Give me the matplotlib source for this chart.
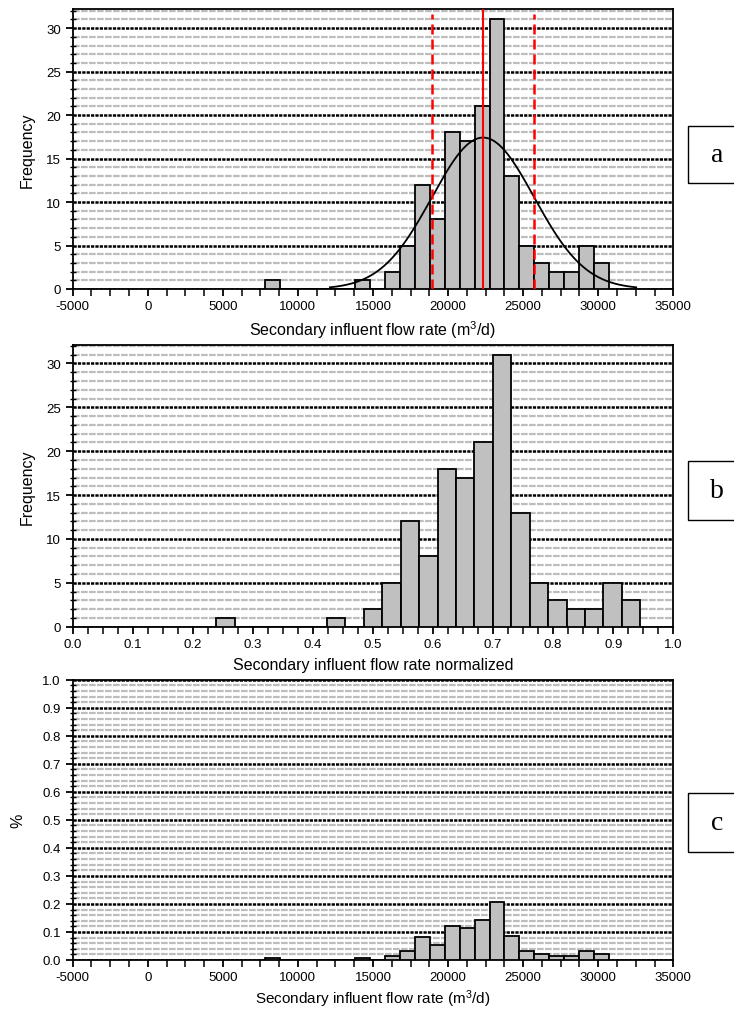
import numpy as np
import matplotlib
matplotlib.use("Agg")
import matplotlib.pyplot as plt
from matplotlib.ticker import MultipleLocator, FormatStrFormatter
from matplotlib.patches import Rectangle

# ---------------- data ----------------
counts = [1, 0, 0, 0, 0, 0, 1, 0, 2, 5, 12, 8, 18, 17, 21, 31, 13, 5, 3, 2, 2, 5, 3]
flow_bin_start = 7820.0     # m3/d, left edge of first bin
flow_bin_width = 996.0      # m3/d
norm_bin_start = 0.239      # normalized, left edge of first bin
norm_bin_width = 0.0307
fit_mean = 22330.0          # fitted normal mean (m3/d)
fit_sd = 3400.0             # fitted normal standard deviation (m3/d)
panel_labels = ["a", "b", "c"]
xlabel_flow = "Secondary influent flow rate (m$^3$/d)"
xlabel_norm = "Secondary influent flow rate normalized"

# ---------------- style ----------------
plt.rcParams['font.family'] = ['Liberation Sans', 'DejaVu Sans']
plt.rcParams['mathtext.fontset'] = 'custom'
plt.rcParams['mathtext.rm'] = 'Liberation Sans'
plt.rcParams['mathtext.it'] = 'Liberation Sans:italic'
plt.rcParams['axes.unicode_minus'] = False

W, H = 734, 1012
fig = plt.figure(figsize=(W / 100, H / 100), dpi=100)

def fx(px):
    return px / W

def fy(py):
    return 1 - py / H

left, right = 72.7, 673.3
boxes = [(10, 290), (346, 627.7), (680.7, 961)]
axes = []
for top, bot in boxes:
    ax = fig.add_axes([fx(left), fy(bot), fx(right) - fx(left), fy(top) - fy(bot)])
    axes.append(ax)

counts_arr = np.array(counts, dtype=float)
n = len(counts)
total = counts_arr.sum()
flow_left = flow_bin_start + flow_bin_width * np.arange(n)
norm_left = norm_bin_start + norm_bin_width * np.arange(n)

bar_kw = dict(align='edge', color='#c0c0c0', edgecolor='black', linewidth=1.3, zorder=3)
major_grid = dict(color='black', linestyle=(0, (1.3, 0.45)), linewidth=1.8)
minor_grid = dict(color='#bdbdbd', linestyle=(0, (3.0, 0.6)), linewidth=1.6)

LAB = 11.5
TICK = 9.5

def style(ax, ymaj, ymin):
    ax.yaxis.set_major_locator(MultipleLocator(ymaj))
    ax.yaxis.set_minor_locator(MultipleLocator(ymin))
    ax.grid(True, axis='y', which='major', **major_grid)
    ax.grid(True, axis='y', which='minor', **minor_grid)
    for s in ax.spines.values():
        s.set_linewidth(1.3)
    ax.tick_params(axis='both', which='major', direction='out', length=5, width=1.3,
                   labelsize=TICK)
    ax.tick_params(axis='y', which='major', pad=3.5)
    ax.tick_params(axis='x', which='major', pad=3)
    ax.tick_params(axis='y', which='minor', direction='inout', length=4, width=1.0)
    ax.tick_params(axis='x', which='minor', direction='out', length=5, width=1.1)

# ---- panel a ----
ax = axes[0]
ax.bar(flow_left, counts_arr, width=flow_bin_width, **bar_kw)
xs = np.linspace(fit_mean - 3 * fit_sd, fit_mean + 3 * fit_sd, 300)
ys = total * flow_bin_width / (fit_sd * np.sqrt(2 * np.pi)) * np.exp(-0.5 * ((xs - fit_mean) / fit_sd) ** 2)
ax.plot(xs, ys, color='black', lw=1.3, zorder=4)
ax.axvline(fit_mean, color='red', lw=1.5, zorder=5)
for v in (fit_mean - fit_sd, fit_mean + fit_sd):
    ax.plot([v, v], [0, 31.6], color='red', lw=1.8, linestyle=(0, (4, 2)), zorder=5)
ax.set_xlim(-5000, 35000)
ax.set_ylim(0, 32.2)
ax.xaxis.set_major_locator(MultipleLocator(5000))
ax.xaxis.set_minor_locator(MultipleLocator(1250))
style(ax, 5, 1)
ax.set_ylabel("Frequency", fontsize=LAB)
ax.yaxis.set_label_coords(-0.064, 0.5)
ax.set_xlabel(xlabel_flow, fontsize=LAB)
ax.xaxis.set_label_coords(0.5, -0.104)

# ---- panel b ----
ax = axes[1]
ax.bar(norm_left, counts_arr, width=norm_bin_width, **bar_kw)
ax.set_xlim(0, 1.0)
ax.set_ylim(0, 32.1)
ax.xaxis.set_major_locator(MultipleLocator(0.1))
ax.xaxis.set_minor_locator(MultipleLocator(0.025))
ax.xaxis.set_major_formatter(FormatStrFormatter('%.1f'))
style(ax, 5, 1)
ax.set_ylabel("Frequency", fontsize=LAB)
ax.yaxis.set_label_coords(-0.064, 0.5)
ax.set_xlabel(xlabel_norm, fontsize=LAB)
ax.xaxis.set_label_coords(0.5, -0.108)

# ---- panel c ----
ax = axes[2]
ax.bar(flow_left, counts_arr / total, width=flow_bin_width, **bar_kw)
ax.set_xlim(-5000, 35000)
ax.set_ylim(0, 1.0)
ax.xaxis.set_major_locator(MultipleLocator(5000))
ax.xaxis.set_minor_locator(MultipleLocator(1250))
ax.yaxis.set_major_formatter(FormatStrFormatter('%.1f'))
style(ax, 0.1, 0.02)
ax.set_ylabel("%", fontsize=LAB)
ax.yaxis.set_label_coords(-0.078, 0.5)
ax.set_xlabel(xlabel_flow, fontsize=11)
ax.xaxis.set_label_coords(0.5, -0.098)

# ---- panel label boxes ----
label_boxes = [(126.5, 184), (462.3, 520.7), (794.3, 852.7)]
for lab, (t, b) in zip(panel_labels, label_boxes):
    rect = Rectangle((fx(688.3), fy(b)), fx(760) - fx(688.3), fy(t) - fy(b),
                     transform=fig.transFigure, fill=False, edgecolor='black', lw=1.0)
    fig.add_artist(rect)
    fig.text(fx(717), fy((t + b) / 2), lab, ha='center', va='center',
             family='Liberation Serif', fontsize=20)

fig.savefig("out.png", dpi=100)
